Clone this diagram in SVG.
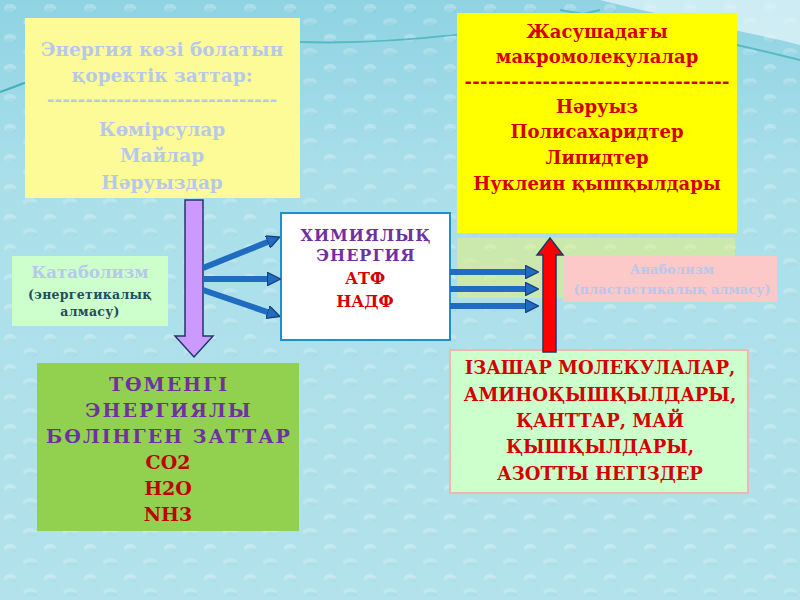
<svg xmlns="http://www.w3.org/2000/svg" width="800" height="600" viewBox="0 0 800 600">
<defs>
<linearGradient id="bg" x1="0" y1="0" x2="0" y2="1">
<stop offset="0" stop-color="#8fd3e3"/>
<stop offset="0.3" stop-color="#aadfea"/>
<stop offset="1" stop-color="#b2e2eb"/>
</linearGradient>
<pattern id="drops" width="40" height="30" patternUnits="userSpaceOnUse">
<ellipse cx="10" cy="8" rx="6" ry="4" fill="#ffffff" opacity="0.25"/>
<ellipse cx="30" cy="22" rx="7" ry="4" fill="#ffffff" opacity="0.2"/>
<ellipse cx="11" cy="10" rx="5" ry="2" fill="#6fbccd" opacity="0.2"/>
<ellipse cx="31" cy="24" rx="6" ry="2" fill="#6fbccd" opacity="0.2"/>
</pattern>
<marker id="bh" viewBox="0 0 10 10" refX="2" refY="5" markerWidth="2.2" markerHeight="2.2" markerUnits="strokeWidth" orient="auto">
<path d="M0,0 L10,5 L0,10 Z" fill="#1f6cc0" stroke="#1a3d7a" stroke-width="1"/>
</marker>
<style>
.t{font-family:"DejaVu Serif","Liberation Serif",serif;font-weight:bold;text-anchor:middle}
.pale{fill:#b7c9ea}
.red{fill:#d40000}
.pur{fill:#7030a0}
.ba{stroke:#1f6cc0;stroke-width:6;fill:none;marker-end:url(#bh)}
</style>
</defs>
<rect width="800" height="600" fill="url(#bg)"/>
<rect width="800" height="600" fill="url(#drops)"/>
<path d="M0,92 C20,85 60,70 120,40" stroke="#2aa7b0" stroke-width="2" fill="none" opacity="0.8"/>
<path d="M300,42 C400,45 520,30 600,10" stroke="#2aa7b0" stroke-width="2" fill="none" opacity="0.6"/>
<path d="M600,0 C680,20 740,30 800,45 L800,0 Z" fill="#e8f7fa" opacity="0.7"/>
<path d="M560,10 C650,25 720,40 800,60" stroke="#2aa7b0" stroke-width="2" fill="none" opacity="0.6"/>

<g id="faint-box">
<rect x="457" y="238" width="278" height="60" fill="#e6f07a" opacity="0.55"/>
</g>

<g id="food-sources">
<rect x="25" y="18" width="275" height="180" fill="#fdfb98"/>
<text class="t pale" font-size="18.5" x="162" y="56">Энергия көзі болатын</text>
<text class="t pale" font-size="18.5" x="162" y="82">қоректік  заттар:</text>
<text class="t pale" font-size="18.5" x="162" y="106">------------------------------</text>
<text class="t pale" font-size="18.5" x="162" y="136">Көмірсулар</text>
<text class="t pale" font-size="18.5" x="162" y="162">Майлар</text>
<text class="t pale" font-size="18.5" x="162" y="189">Нәруыздар</text>
</g>

<g id="macromolecules">
<rect x="457" y="13" width="280" height="220" fill="#ffff00"/>
<text class="t red" font-size="18" x="597" y="38">Жасушадағы</text>
<text class="t red" font-size="18" x="597" y="63">макромолекулалар</text>
<text class="t red" font-size="18" x="597" y="88" textLength="265">----------------------------------</text>
<text class="t red" font-size="18" x="597" y="113">Нәруыз</text>
<text class="t red" font-size="18" x="597" y="138">Полисахаридтер</text>
<text class="t red" font-size="18" x="597" y="164">Липидтер</text>
<text class="t red" font-size="18" x="597" y="190">Нуклеин қышқылдары</text>
</g>

<g id="chemical-energy">
<rect x="281" y="213" width="169" height="127" fill="#ffffff" stroke="#1e90d0" stroke-width="2"/>
<text class="t pur" font-size="16" letter-spacing="1" x="366" y="241">ХИМИЯЛЫҚ</text>
<text class="t pur" font-size="16" letter-spacing="1" x="366" y="261">ЭНЕРГИЯ</text>
<text class="t red" font-size="16" x="365" y="284">АТФ</text>
<text class="t red" font-size="16" x="365" y="307">НАДФ</text>
</g>

<g id="catabolism">
<rect x="12" y="256" width="156" height="70" fill="#ccffcc"/>
<text class="t pale" font-size="16.5" x="90" y="278">Катаболизм</text>
<text class="t" font-size="12.5" letter-spacing="0.3" fill="#1f4e5f" x="90" y="299">(энергетикалық</text>
<text class="t" font-size="12.5" letter-spacing="0.3" fill="#1f4e5f" x="90" y="316">алмасу)</text>
</g>

<g id="anabolism">
<rect x="563" y="256" width="214" height="46" fill="#fcc8c8"/>
<text class="t pale" font-size="13" x="672" y="274">Анаболизм</text>
<text class="t pale" font-size="13" x="672" y="294">(пластастикалық алмасу)</text>
</g>

<g id="low-energy">
<rect x="37" y="363" width="262" height="168" fill="#92d050"/>
<text class="t pur" font-size="19" letter-spacing="2" x="169" y="391">ТӨМЕНГІ</text>
<text class="t pur" font-size="19" letter-spacing="2" x="169" y="417">ЭНЕРГИЯЛЫ</text>
<text class="t pur" font-size="19" letter-spacing="2" x="169" y="443">БӨЛІНГЕН  ЗАТТАР</text>
<text class="t" font-size="19" x="168" y="469" fill="#c00000">CO2</text>
<text class="t" font-size="19" x="168" y="495" fill="#c00000">H2O</text>
<text class="t" font-size="19" x="168" y="521" fill="#c00000">NH3</text>
</g>

<g id="precursors">
<rect x="450" y="350" width="298" height="143" fill="#ccffcc" stroke="#f2b4b4" stroke-width="2"/>
<text class="t red" font-size="18" x="600" y="374">ІЗАШАР  МОЛЕКУЛАЛАР,</text>
<text class="t red" font-size="18" x="600" y="401">АМИНОҚЫШҚЫЛДАРЫ,</text>
<text class="t red" font-size="18" x="600" y="427">ҚАНТТАР,  МАЙ</text>
<text class="t red" font-size="18" x="600" y="453">ҚЫШҚЫЛДАРЫ,</text>
<text class="t red" font-size="18" x="600" y="480">АЗОТТЫ  НЕГІЗДЕР</text>
</g>

<g id="connectors">
<path d="M185,200 L203,200 L203,336 L213,336 L194,357 L175,336 L185,336 Z" fill="#cc99ff" stroke="#1f3864" stroke-width="1.5"/>
<line class="ba" x1="203" y1="268" x2="270" y2="241"/>
<line class="ba" x1="203" y1="279" x2="270" y2="279"/>
<line class="ba" x1="203" y1="290" x2="270" y2="313"/>
<line class="ba" x1="450" y1="272" x2="528" y2="272"/>
<line class="ba" x1="450" y1="289" x2="528" y2="289"/>
<line class="ba" x1="450" y1="306" x2="528" y2="306"/>
<path d="M543,352 L543,255 L537,255 L550,238 L563,255 L556,255 L556,352 Z" fill="#ff0000" stroke="#1f3864" stroke-width="1.5"/>
</g>
</svg>
